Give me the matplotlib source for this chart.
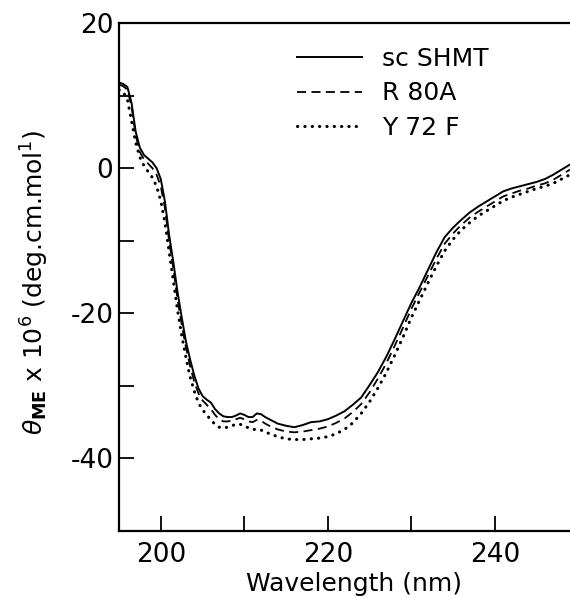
import matplotlib
matplotlib.use("Agg")
import matplotlib.pyplot as plt

wavelength = [195, 195.5, 196, 196.5, 197, 197.5, 198, 198.5, 199, 199.5,
              200, 200.5, 201, 201.5, 202, 202.5, 203, 203.5, 204, 204.5,
              205, 205.5, 206, 206.5, 207, 207.5, 208, 208.5, 209, 209.5,
              210, 210.5, 211, 211.5, 212, 212.5, 213, 214, 215, 216,
              217, 218, 219, 220, 221, 222, 223, 224, 225, 226,
              227, 228, 229, 230, 231, 232, 233, 234, 235, 236,
              237, 238, 239, 240, 241, 242, 243, 244, 245, 246,
              247, 248, 249]

sc_shmt = [11.8, 11.6, 11.2, 9.0, 5.0, 2.8, 1.8, 1.3, 0.8, 0.0,
           -1.5, -4.6, -9.2, -12.9, -17.0, -20.5, -23.8, -26.3, -28.5, -30.3,
           -31.4, -31.9, -32.3, -33.2, -33.8, -34.2, -34.3, -34.3, -34.1, -33.8,
           -34.0, -34.3, -34.3, -33.8, -33.9, -34.3, -34.6, -35.2, -35.5, -35.7,
           -35.4, -35.0, -34.9, -34.6, -34.1, -33.5, -32.6, -31.6, -29.9, -28.1,
           -26.0, -23.6, -21.1, -18.6, -16.4, -14.0, -11.6, -9.5, -8.2, -7.1,
           -6.1, -5.3, -4.6, -3.9, -3.2, -2.8, -2.5, -2.2, -1.9, -1.5,
           -0.9, -0.2, 0.5]

r80a = [11.5, 11.3, 10.8, 8.5, 4.5, 2.2, 1.2, 0.6, 0.0, -0.9,
        -2.5, -5.5, -10.0, -13.8, -18.0, -21.5, -24.6, -27.2, -29.4, -31.0,
        -32.0, -32.6, -33.2, -34.0, -34.6, -34.9, -34.9, -34.8, -34.6, -34.4,
        -34.6, -34.9, -35.0, -34.7, -34.8, -35.2, -35.5, -36.0, -36.3, -36.4,
        -36.3, -36.1, -35.9, -35.6, -35.1, -34.5, -33.6, -32.5, -30.9, -29.0,
        -26.9, -24.5, -22.0, -19.4, -17.1, -14.8, -12.5, -10.4, -9.0, -7.8,
        -6.8, -6.0, -5.3, -4.6, -3.9, -3.5, -3.1, -2.8, -2.4, -2.1,
        -1.6, -0.9, -0.2]

y72f = [10.8, 10.5, 9.5, 6.5, 3.5, 1.5, 0.3, -0.5, -1.3, -2.5,
        -4.5, -7.5, -11.5, -15.5, -19.5, -23.0, -26.0, -28.7, -30.7, -32.3,
        -33.3, -34.0, -34.7, -35.3, -35.7, -35.8, -35.7, -35.5, -35.3, -35.3,
        -35.5, -35.8, -36.0, -36.0, -36.1, -36.3, -36.6, -37.0, -37.3, -37.4,
        -37.4, -37.3, -37.2, -37.0, -36.6, -36.0, -35.1, -33.8, -32.2, -30.3,
        -28.2, -25.8, -23.3, -20.6, -18.2, -15.8, -13.5, -11.4, -9.8, -8.5,
        -7.5, -6.6, -5.9, -5.2, -4.5, -4.0, -3.6, -3.2, -2.8, -2.5,
        -2.1, -1.5, -0.9]

series_labels = ["sc SHMT", "R 80A", "Y 72 F"]
x_ticks = [200, 210, 220, 230, 240]
x_ticklabels = ["200", "", "220", "", "240"]
y_ticks = [-40, -30, -20, -10, 0, 10, 20]
y_ticklabels = ["-40", "", "-20", "", "0", "", "20"]

plt.rcParams['font.family'] = ['DejaVu Sans']
plt.rcParams['mathtext.fontset'] = 'dejavusans'

fig = plt.figure(figsize=(5.70, 5.98), dpi=100)
ax = fig.add_axes([119/570, 1 - 531/598, 451/570, 508/598])

ax.plot(wavelength, sc_shmt, color='black', lw=1.4, linestyle='-', label=series_labels[0])
ax.plot(wavelength, r80a, color='black', lw=1.3, linestyle=(0, (5, 3)), label=series_labels[1])
ax.plot(wavelength, y72f, color='black', lw=2.2, linestyle=(0, (0.1, 2.3)),
        dash_capstyle='round', label=series_labels[2])

ax.set_xlim(195, 249)
ax.set_ylim(-50, 20)
ax.set_xticks(x_ticks)
ax.set_xticklabels(x_ticklabels)
ax.set_yticks(y_ticks)
ax.set_yticklabels(y_ticklabels)

ax.tick_params(axis='x', direction='in', length=11, width=1.3, pad=8, labelsize=19)
ax.tick_params(axis='y', direction='in', length=11, width=1.3, pad=4, labelsize=19)

for side in ['left', 'top', 'bottom']:
    ax.spines[side].set_linewidth(1.6)
ax.spines['right'].set_visible(False)

ax.set_xlabel('Wavelength (nm)', fontsize=18)
ax.xaxis.set_label_coords(0.52, -0.08)
ax.set_ylabel(r'$\theta_{\mathbf{ME}}$' + ' x 10$^{6}$ (deg.cm.mol$^{1}$)', fontsize=18)
ax.yaxis.set_label_coords(-0.15, 0.49)

leg = ax.legend(loc='upper left', bbox_to_anchor=((297 - 119) / 451, (531 - 47) / 508),
                frameon=False, fontsize=18, handlelength=2.6, handletextpad=0.8,
                labelspacing=0.42, borderpad=0, borderaxespad=0)

fig.savefig('out.png', dpi=100)
